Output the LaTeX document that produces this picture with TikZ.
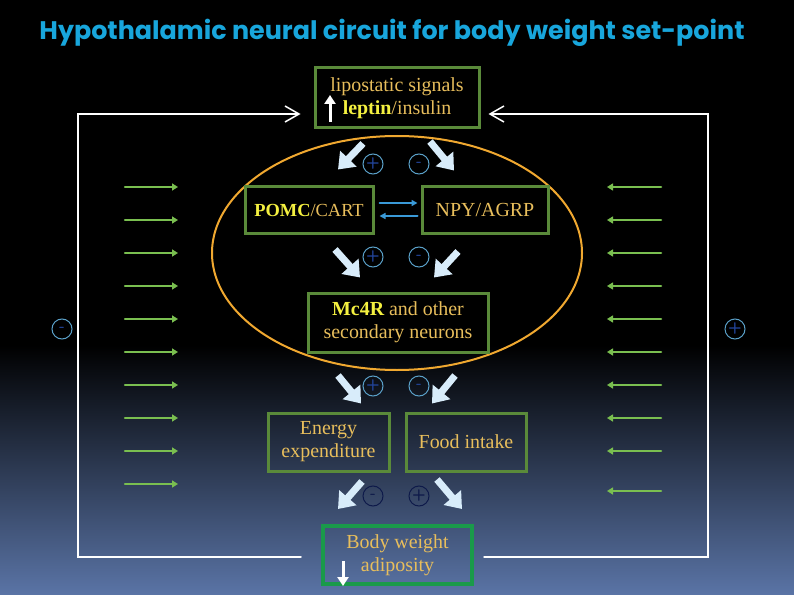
\documentclass[tikz,border=0pt]{standalone}
\usepackage{fontspec}
\setmainfont{Liberation Serif}
\newfontfamily\titlefont{Poppins}
\usetikzlibrary{arrows.meta,positioning}

\definecolor{titleblue}{HTML}{18A6DC}
\definecolor{boxgreen}{HTML}{5A8A3A}
\definecolor{bodygreen}{HTML}{1A9A4A}
\definecolor{textgold}{HTML}{E8BE5C}
\definecolor{leptinyellow}{HTML}{F4F040}
\definecolor{ringorange}{HTML}{F0A830}
\definecolor{arrowgreen}{HTML}{7ABF50}
\definecolor{blockblue}{HTML}{D8ECFA}
\definecolor{ringblue}{HTML}{5AA0C8}
\definecolor{signnavy}{HTML}{22449A}
\definecolor{darknavy}{HTML}{0E1A4A}
\definecolor{pairblue}{HTML}{3A9AD8}
\definecolor{bgbottom}{HTML}{5A74A6}

\begin{document}
\begin{tikzpicture}[
    x=1bp, y=-1bp,
    >=latex,
    line cap=round,
    box/.style={draw=boxgreen, line width=3bp, fill=black, text=textgold,
      align=center, inner sep=0pt, font=\fontsize{20}{23}\selectfont},
    sign/.style={circle, draw=ringblue, line width=1bp, minimum size=20bp,
      inner sep=0pt, text=signnavy, font=\sffamily\bfseries\fontsize{16}{16}\selectfont},
    lowsign/.style={sign, draw=darknavy, text=darknavy},
    blockarrow/.style={draw=blockblue, line width=7bp, line cap=butt,
      -{Triangle[length=15bp,width=22bp]}},
    pairarrow/.style={draw=pairblue, line width=2bp, -{Triangle[length=6bp,width=6bp]}},
    greenarrow/.style={draw=arrowgreen, line width=2.5bp, -{Triangle[length=6bp,width=7bp]}},
    frameline/.style={draw=white, line width=1.5bp,
      -{Straight Barb[length=14bp,width=16bp,line width=1.5bp]}},
    whitemark/.style={draw=white, line width=3bp, line cap=butt,
      -{Triangle[length=9bp,width=11bp]}}
]
  % Background
  \useasboundingbox (0,0) rectangle (794,595);
  \fill[black] (0,0) rectangle (794,346);
  \shade[top color=black, bottom color=bgbottom] (0,345) rectangle (794,595);

  % Title
  \node[text=titleblue, font=\titlefont\bfseries\fontsize{25.5}{30}\selectfont] (title) at (392,33)
    {Hypothalamic neural circuit for body weight set-point};

  % Hypothalamus
  \draw[ringorange, line width=2bp] (397,253) ellipse [x radius=185, y radius=117];

  % Boxes
  \node[box, minimum width=164bp, minimum height=60bp] (lipo) at (397,98)
    {lipostatic signals\\\textbf{\color{leptinyellow}leptin}/insulin};
  \node[box, minimum width=128bp, minimum height=46bp, font=\fontsize{18.5}{22}\selectfont] (pomc) at (309,210)
    {\textbf{\color{leptinyellow}POMC}/CART};
  \node[box, minimum width=126bp, minimum height=46bp] (npy) at (485,210) {NPY/AGRP};
  \node[box, minimum width=180bp, minimum height=59bp] (mcr) at (398,322.5)
    {\textbf{\color{leptinyellow}Mc4R} and other\\secondary neurons};
  \node[box, fill=none, minimum width=121bp, minimum height=58bp] (energy) at (328.5,442)
    {Energy\\expenditure};
  \node[box, fill=none, minimum width=120bp, minimum height=58bp] (food) at (466,442) {Food intake};
  \node[box, fill=none, draw=bodygreen, line width=4bp, minimum width=149bp, minimum height=58bp] (body) at (397.5,555)
    {Body weight\\adiposity};

  % Up / down marks
  \draw[whitemark] (330,122) -- (330,95);
  \draw[whitemark] (343,561) -- (343,586);

  % Feedback frame
  \coordinate (frameTL) at (78,114);
  \coordinate (frameBL) at (78,557);
  \coordinate (frameTR) at (708,114);
  \coordinate (frameBR) at (708,557);
  \draw[frameline] ([xshift=-20bp]body.west |- frameBL) -- (frameBL) -- (frameTL)
    -- ([xshift=-13bp]lipo.west |- frameTL);
  \draw[frameline] ([xshift=10bp]body.east |- frameBR) -- (frameBR) -- (frameTR)
    -- ([xshift=8bp]lipo.east |- frameTR);

  % Incoming signals
  \foreach \y in {187,220,...,484}
    \draw[greenarrow] (125,\y) -- (178,\y);
  \foreach \y in {187,220,253,286,319,352,385,418,451,491}
    \draw[greenarrow] (661,\y) -- (607,\y);

  % Signs
  \node[sign] (sFrameL) at (62,329) {-};
  \node[sign] (sFrameR) at (735,329) {+};
  \node[sign] (sLipoP) at (373,164) {+};
  \node[sign] (sLipoM) at (419,164) {-};
  \node[sign] (sArcP) at (373,257) {+};
  \node[sign] (sArcM) at (419,257) {-};
  \node[sign] (sMcP) at (373,386) {+};
  \node[sign] (sMcM) at (419,386) {-};
  \node[lowsign] (sOutM) at (373,496) {-};
  \node[lowsign] (sOutP) at (419,496) {+};

  % POMC <-> NPY
  \draw[pairarrow] ([shift={(5,-7)}]pomc.east) -- ([shift={(-3,-7)}]npy.west);
  \draw[pairarrow] ([shift={(-3,6)}]npy.west) -- ([shift={(5,6)}]pomc.east);

  % Block arrows
  \draw[blockarrow] ([shift={(-34,14)}]lipo.south) -- ([shift={(29,-16)}]pomc.north);
  \draw[blockarrow] ([shift={(33,12)}]lipo.south) -- ([shift={(-31,-15)}]npy.north);
  \draw[blockarrow] ([shift={(26,15)}]pomc.south) -- ([shift={(-38,-14)}]mcr.north);
  \draw[blockarrow] ([shift={(-27,17)}]npy.south) -- ([shift={(36,-14)}]mcr.north);
  \draw[blockarrow] ([shift={(-60,22)}]mcr.south) -- ([shift={(32.5,-8)}]energy.north);
  \draw[blockarrow] ([shift={(57,22)}]mcr.south) -- ([shift={(-34,-8)}]food.north);
  \draw[blockarrow] ([shift={(33.5,9)}]energy.south) -- ([shift={(-59.5,-15)}]body.north);
  \draw[blockarrow] ([shift={(-29,7)}]food.south) -- ([shift={(64.5,-15)}]body.north);
\end{tikzpicture}
\end{document}
